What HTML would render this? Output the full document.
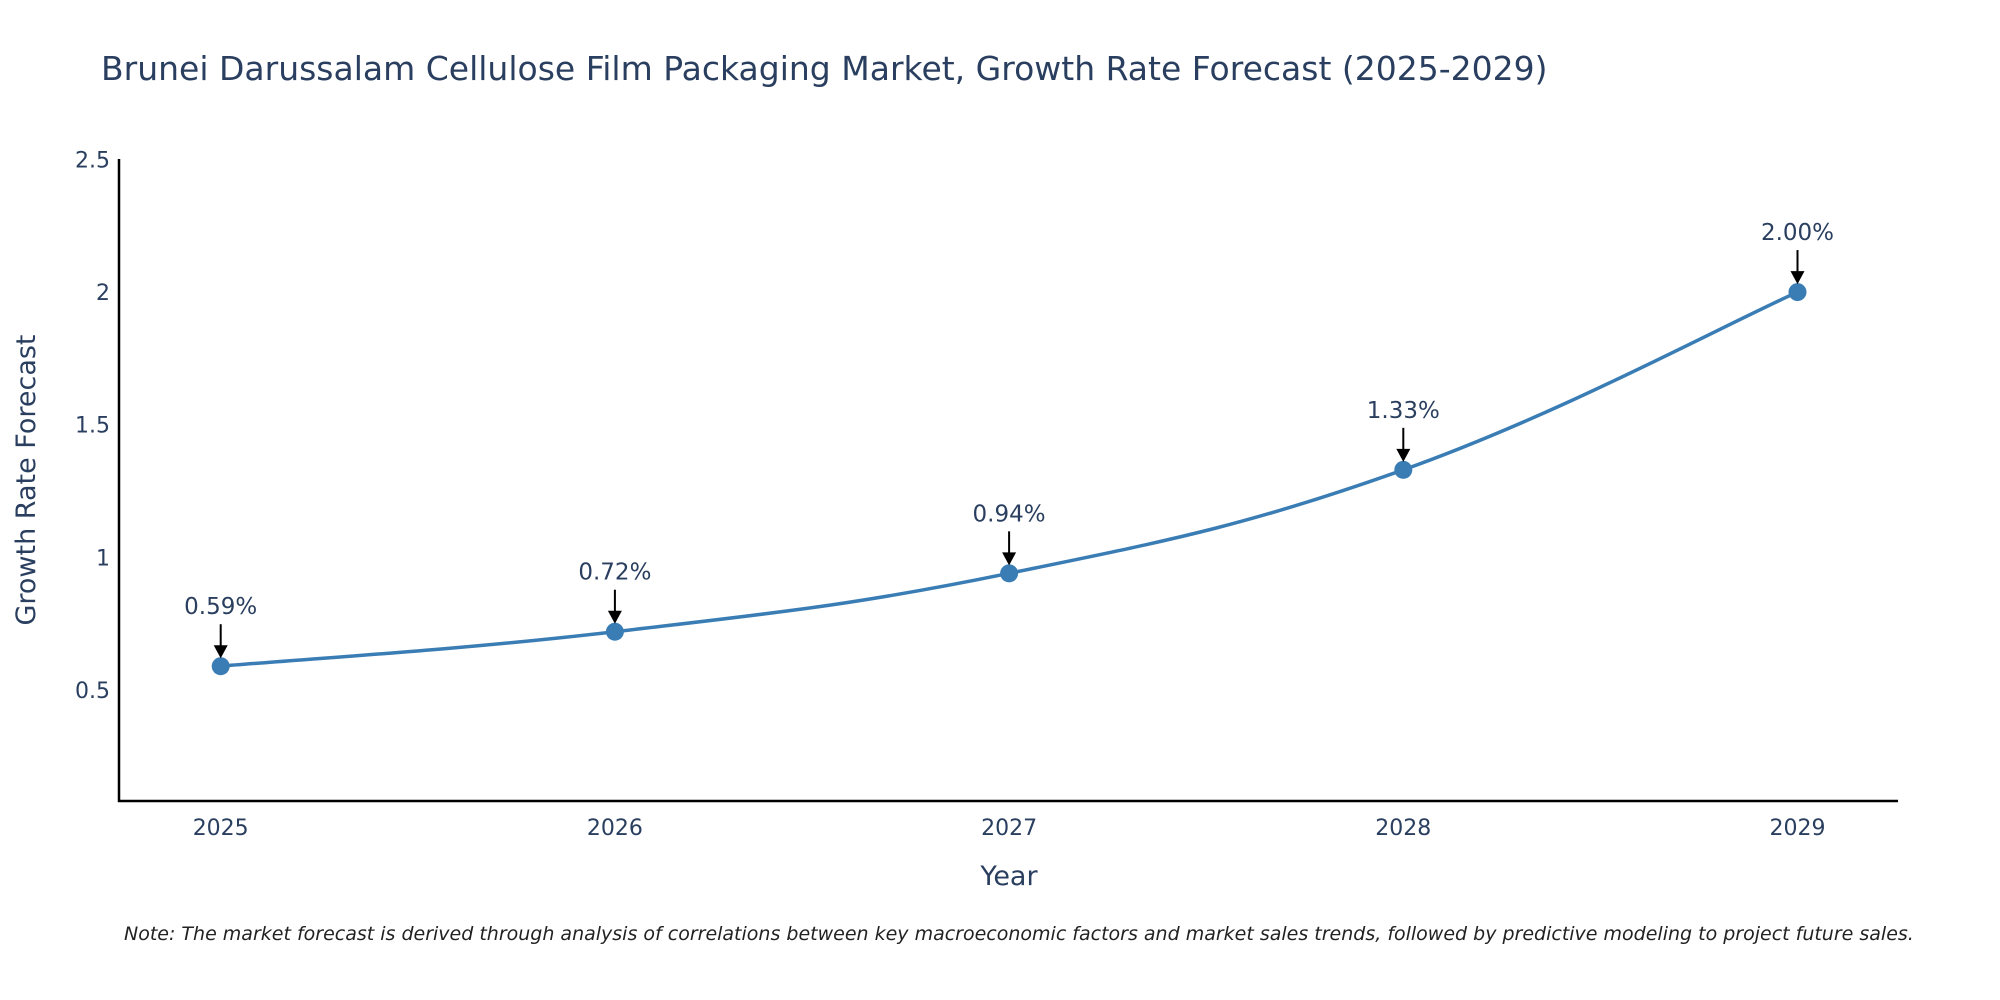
<!DOCTYPE html>
<html><head><meta charset="utf-8"><style>
body{margin:0;background:#fff;}
svg{display:block;font-family:"DejaVu Sans","Liberation Sans",sans-serif;}
</style></head><body>
<svg id="chart" width="2000" height="1000" viewBox="0 0 2000 1000">
<rect width="2000" height="1000" fill="#fff"/>
<text x="101" y="80" font-size="33" fill="#2a3f5f">Brunei Darussalam Cellulose Film Packaging Market, Growth Rate Forecast (2025-2029)</text>
<g id="yticks"></g>
<g id="xticks"></g>
<line x1="119" y1="159" x2="119" y2="802" stroke="#000" stroke-width="2.5"/>
<line x1="118" y1="801" x2="1898" y2="801" stroke="#000" stroke-width="2.5"/>
<g id="series"></g>
<text x="35" y="480" font-size="27" fill="#2a3f5f" text-anchor="middle" transform="rotate(-90 35 480)">Growth Rate Forecast</text>
<text x="1009" y="885" font-size="27" fill="#2a3f5f" text-anchor="middle">Year</text>
<text x="124" y="940" font-size="19" font-style="italic" fill="#222">Note: The market forecast is derived through analysis of correlations between key macroeconomic factors and market sales trends, followed by predictive modeling to project future sales.</text>
</svg>
<script>
const years = [2025, 2026, 2027, 2028, 2029];
const growthValues = [0.59, 0.72, 0.94, 1.33, 2.00];
const valueLabels = ["0.59%", "0.72%", "0.94%", "1.33%", "2.00%"];
const yTickValues = [0.5, 1, 1.5, 2, 2.5];
const yTickLabels = ["0.5", "1", "1.5", "2", "2.5"];

const NS = "http://www.w3.org/2000/svg";
const yMin = 0.082, yMax = 2.5, yTop = 159.4, yBot = 801;
function yScale(v){ return yBot - (v - yMin) / (yMax - yMin) * (yBot - yTop); }
const xFirst = 220.7, xStep = 394.2;
function xScale(yr){ return xFirst + (yr - years[0]) * xStep; }
function mk(tag, attrs, parent){ const e=document.createElementNS(NS,tag); for(const k in attrs) e.setAttribute(k,attrs[k]); parent.appendChild(e); return e; }

const yt = document.getElementById('yticks');
yTickValues.forEach((v,i)=>{
  const t = mk('text',{x:110,y:yScale(v)+8,'font-size':22,fill:'#2a3f5f','text-anchor':'end'},yt);
  
  
  t.textContent = yTickLabels[i];
});
const xt = document.getElementById('xticks');
years.forEach(yr=>{
  const t = mk('text',{x:xScale(yr),y:835,'font-size':22,fill:'#2a3f5f','text-anchor':'middle'},xt);
  
  
  t.textContent = yr;
});

const s = document.getElementById('series');
const pts = years.map((yr,i)=>[xScale(yr), yScale(growthValues[i])]);
let d = 'M'+pts[0][0]+','+pts[0][1];
const k = 0.2;
for(let i=0;i<pts.length-1;i++){
  const p0=pts[Math.max(i-1,0)], p1=pts[i], p2=pts[i+1], p3=pts[Math.min(i+2,pts.length-1)];
  const c1=[p1[0]+(p2[0]-p0[0])*k, p1[1]+(p2[1]-p0[1])*k];
  const c2=[p2[0]-(p3[0]-p1[0])*k, p2[1]-(p3[1]-p1[1])*k];
  d += ' C'+c1[0]+','+c1[1]+' '+c2[0]+','+c2[1]+' '+p2[0]+','+p2[1];
}
const line = mk('path',{d:d,fill:'none',stroke:'#3a7db5','stroke-width':3.5},s);


pts.forEach((p,i)=>{
  const c = mk('circle',{cx:p[0],cy:p[1],r:9,fill:'#3a7db5'},s);
  
  
  const a = mk('line',{x1:p[0],y1:p[1]-42,x2:p[0],y2:p[1]-20,stroke:'#000','stroke-width':2},s);
  
  
  const h = mk('polygon',{points:(p[0]-7)+','+(p[1]-21)+' '+(p[0]+7)+','+(p[1]-21)+' '+p[0]+','+(p[1]-8),fill:'#000'},s);
  
  
  const t = mk('text',{x:p[0],y:p[1]-52,'font-size':23,fill:'#2a3f5f','text-anchor':'middle'},s);
  
  
  t.textContent = valueLabels[i];
});
</script>
</body></html>
